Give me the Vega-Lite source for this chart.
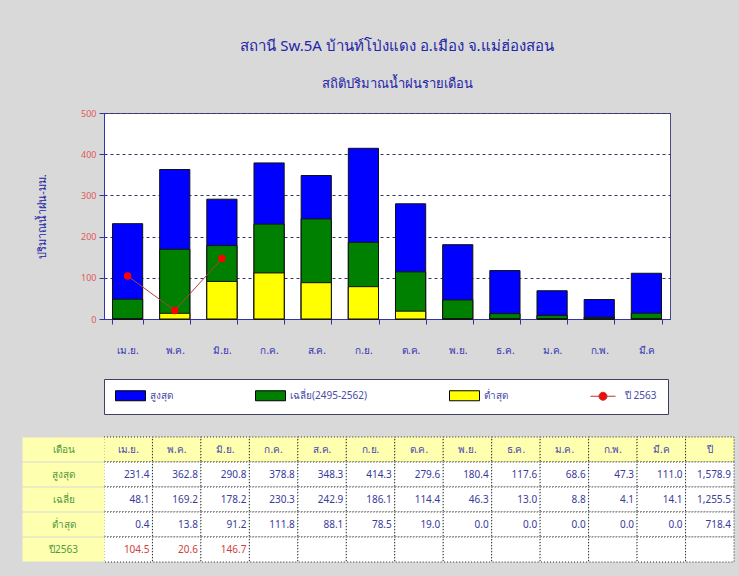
{
  "$schema": "https://vega.github.io/schema/vega-lite/v6.json",
  "background": "#d9d9d9",
  "padding": {"left": 10, "top": 38, "right": 5, "bottom": 13},
  "config": {
    "font": "Tahoma, 'Noto Sans', 'DejaVu Sans', sans-serif",
    "view": {"stroke": null}
  },
  "datasets": {
    "rain": [
      {"m": "เม.ย.", "max": 231.4, "avg": 48.1, "min": 0.4, "y2563": 104.5},
      {"m": "พ.ค.", "max": 362.8, "avg": 169.2, "min": 13.8, "y2563": 20.6},
      {"m": "มิ.ย.", "max": 290.8, "avg": 178.2, "min": 91.2, "y2563": 146.7},
      {"m": "ก.ค.", "max": 378.8, "avg": 230.3, "min": 111.8},
      {"m": "ส.ค.", "max": 348.3, "avg": 242.9, "min": 88.1},
      {"m": "ก.ย.", "max": 414.3, "avg": 186.1, "min": 78.5},
      {"m": "ต.ค.", "max": 279.6, "avg": 114.4, "min": 19.0},
      {"m": "พ.ย.", "max": 180.4, "avg": 46.3, "min": 0.0},
      {"m": "ธ.ค.", "max": 117.6, "avg": 13.0, "min": 0.0},
      {"m": "ม.ค.", "max": 68.6, "avg": 8.8, "min": 0.0},
      {"m": "ก.พ.", "max": 47.3, "avg": 4.1, "min": 0.0},
      {"m": "มี.ค", "max": 111.0, "avg": 14.1, "min": 0.0},
      {"m": "ปี", "max": 1578.9, "avg": 1255.5, "min": 718.4}
    ]
  },
  "spacing": 80,
  "vconcat": [
    {
      "width": 566,
      "height": 206,
      "title": {
        "text": "สถานี Sw.5A บ้านท์โป่งแดง อ.เมือง จ.แม่ฮ่องสอน",
        "subtitle": "สถิติปริมาณน้ำฝนรายเดือน",
        "color": "#2424a8",
        "subtitleColor": "#2424a8",
        "fontSize": 15,
        "subtitleFontSize": 13,
        "fontWeight": "normal",
        "subtitlePadding": 24,
        "offset": 18,
        "anchor": "middle",
        "dx": 10
      },
      "data": {"name": "rain"},
      "transform": [{"filter": "datum.m !== 'ปี'"}],
      "view": {"fill": "white", "stroke": "#4a4a80", "strokeWidth": 1},
      "encoding": {
        "x": {
          "field": "m",
          "type": "nominal",
          "sort": null,
          "scale": {
            "domain": ["เม.ย.", "พ.ค.", "มิ.ย.", "ก.ค.", "ส.ค.", "ก.ย.", "ต.ค.", "พ.ย.", "ธ.ค.", "ม.ค.", "ก.พ.", "มี.ค"],
            "paddingInner": 0.36,
            "paddingOuter": 0.18
          },
          "axis": {
            "title": null,
            "labelAngle": 0,
            "labelColor": "#3535b5",
            "labelFontSize": 10,
            "labelPadding": 21,
            "domainColor": "#3333aa",
            "tickColor": "#3333aa",
            "tickSize": 5,
            "tickBand": "extent",
            "grid": false
          }
        }
      },
      "layer": [
        {
          "transform": [{"fold": ["max", "avg", "min"], "as": ["series", "v"]}],
          "mark": {"type": "bar", "stroke": "#111111", "strokeWidth": 1},
          "encoding": {
            "y": {
              "field": "v",
              "type": "quantitative",
              "stack": null,
              "scale": {"domain": [0, 500], "nice": false},
              "axis": {
                "title": "ปริมาณน้ำฝน-มม.",
                "titleColor": "#2424a8",
                "titleFontSize": 11,
                "titleFontWeight": "normal",
                "titlePadding": 33,
                "values": [0, 100, 200, 300, 400, 500],
                "labelColor": "#e05a5a",
                "labelFontSize": 9,
                "labelPadding": 3,
                "domainColor": "#3333aa",
                "tickColor": "#3333aa",
                "tickSize": 5,
                "grid": true,
                "gridColor": "#333366",
                "gridDash": [3, 3],
                "gridOpacity": 1
              }
            },
            "color": {
              "field": "series",
              "type": "nominal",
              "scale": {
                "domain": ["max", "avg", "min", "y2563"],
                "range": ["#0000ff", "#008000", "#ffff00", "#ff0000"]
              },
              "legend": {
                "title": null,
                "orient": "none",
                "legendX": 0,
                "legendY": 266,
                "direction": "horizontal",
                "columns": 4,
                "gridAlign": "each",
                "columnPadding": 80,
                "fillColor": "white",
                "strokeColor": "#404060",
                "padding": 11,
                "symbolSize": 100,
                "symbolStrokeColor": "#000000",
                "symbolStrokeWidth": 1,
                "labelColor": "#4a4aa8",
                "labelFontSize": 10,
                "labelOffset": 24,
                "labelExpr": "datum.value === 'max' ? 'สูงสุด' : datum.value === 'avg' ? 'เฉลี่ย(2495-2562)' : datum.value === 'min' ? 'ต่ำสุด' : 'ปี 2563'",
                "encoding": {
                  "symbols": {
                    "shape": {
                      "condition": {"test": "datum.value === 'y2563'", "value": "M-1,0H4M0.7,0A0.8,0.8 0 1 1 2.3,0A0.8,0.8 0 1 1 0.7,0Z"},
                      "value": "M-1,-1H5V1H-1Z"
                    },
                    "stroke": {
                      "condition": {"test": "datum.value === 'y2563'", "value": "#c03030"},
                      "value": "#000000"
                    },
                    "strokeWidth": {"value": 1},
                    "opacity": {"value": 1}
                  }
                }
              }
            }
          }
        },
        {
          "transform": [{"filter": "isValid(datum.y2563)"}],
          "mark": {"type": "line", "color": "#b04040", "strokeWidth": 1},
          "encoding": {"y": {"field": "y2563", "type": "quantitative"}}
        },
        {
          "transform": [
            {"filter": "isValid(datum.y2563)"},
            {"fold": ["y2563"], "as": ["series", "v"]}
          ],
          "mark": {"type": "point", "filled": true, "size": 55, "opacity": 1},
          "encoding": {
            "y": {"field": "v", "type": "quantitative"},
            "color": {"field": "series", "type": "nominal"}
          }
        }
      ]
    },
    {
      "width": 630,
      "height": 125,
      "data": {"name": "rain"},
      "encoding": {
        "x": {
          "field": "m",
          "type": "nominal",
          "sort": null,
          "axis": null,
          "scale": {
            "domain": ["เม.ย.", "พ.ค.", "มิ.ย.", "ก.ค.", "ส.ค.", "ก.ย.", "ต.ค.", "พ.ย.", "ธ.ค.", "ม.ค.", "ก.พ.", "มี.ค", "ปี"],
            "paddingInner": 0,
            "paddingOuter": 0
          }
        }
      },
      "layer": [
        {
          "transform": [{"fold": ["h", "max", "avg", "min", "y2563"], "as": ["r", "v"]}],
          "mark": {"type": "rect", "stroke": "#222222", "strokeDash": [1, 2], "strokeWidth": 1},
          "encoding": {
            "y": {
              "field": "r",
              "type": "nominal",
              "sort": null,
              "scale": {"domain": ["h", "max", "avg", "min", "y2563"], "paddingInner": 0, "paddingOuter": 0},
              "axis": {
                "title": null,
                "domain": false,
                "tickSize": 82,
                "tickWidth": 24,
                "tickColor": "#ffffb0",
                "tickOpacity": 1,
                "labelAlign": "center",
                "labelBaseline": "middle",
                "labelPadding": -41,
                "labelColor": "#4f9a3f",
                "labelFontSize": 10,
                "labelExpr": "datum.value === 'h' ? 'เดือน' : datum.value === 'max' ? 'สูงสุด' : datum.value === 'avg' ? 'เฉลี่ย' : datum.value === 'min' ? 'ต่ำสุด' : 'ปี2563'"
              }
            },
            "fill": {"condition": {"test": "datum.r === 'h'", "value": "#ffffb0"}, "value": "#ffffff"}
          }
        },
        {
          "mark": {"type": "text", "color": "#4848b0", "fontSize": 10},
          "encoding": {
            "y": {"datum": "h", "type": "nominal"},
            "text": {"field": "m"}
          }
        },
        {
          "transform": [
            {"fold": ["max", "avg", "min", "y2563"], "as": ["r", "v"]},
            {"filter": "isValid(datum.v)"}
          ],
          "mark": {"type": "text", "align": "right", "dx": -3, "fontSize": 10},
          "encoding": {
            "x": {"field": "m", "type": "nominal", "sort": null, "bandPosition": 1},
            "y": {"field": "r", "type": "nominal"},
            "text": {"field": "v", "type": "quantitative", "format": ",.1f"},
            "color": {"condition": {"test": "datum.r === 'y2563'", "value": "#d04040"}, "value": "#3a3a9a"}
          }
        }
      ]
    }
  ]
}
